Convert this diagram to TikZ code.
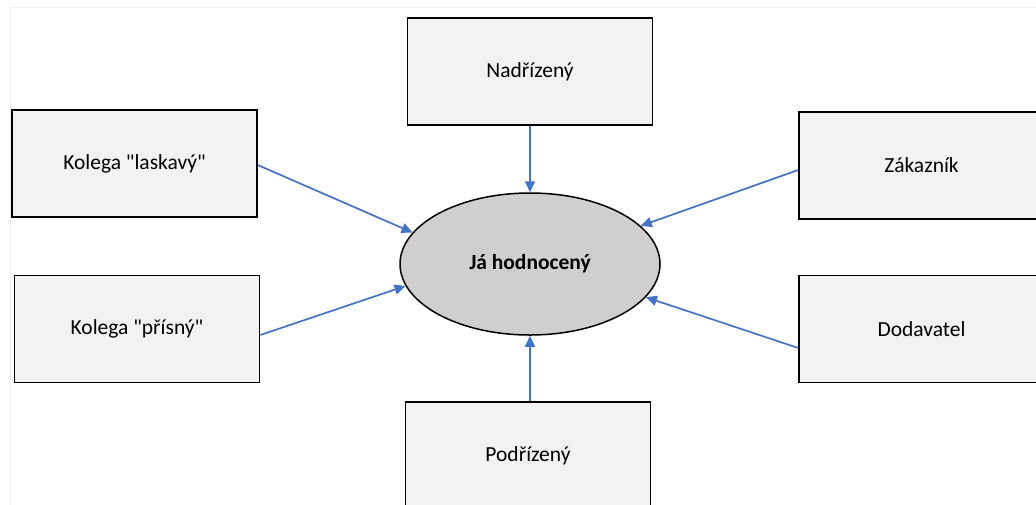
\documentclass[tikz,border=0pt]{standalone}
\usepackage{fontspec}
\setmainfont{Carlito}[Ligatures=TeXOff]
\usetikzlibrary{shapes.geometric,arrows.meta}
\definecolor{boxfill}{HTML}{F2F2F2}
\definecolor{ellfill}{HTML}{D0CECE}
\definecolor{arrowblue}{HTML}{4472C4}
\definecolor{framegray}{HTML}{EEEEEE}
\begin{document}
\begin{tikzpicture}[x=1pt,y=-1pt,
  rolebox/.style={draw=black, line width=1.5pt, fill=boxfill, minimum width=245pt, minimum height=107pt, inner sep=0pt, font=\fontsize{21.5}{25}\selectfont},
  centre/.style={ellipse, draw=black, line width=1.5pt, fill=ellfill, minimum width=260pt, minimum height=142pt, inner sep=0pt, font=\fontsize{21.5}{25}\selectfont\bfseries},
  link/.style={draw=arrowblue, line width=1.7pt, -{Triangle[length=11pt,width=10pt]}}]
\useasboundingbox[fill=white] (0,0) rectangle (1036,504);
\clip (0,0) rectangle (1036,504);
\draw[framegray, line width=1pt] (10,520) -- (10,7) -- (1040,7);
\node[centre] (me) at (530,264) {Já hodnocený};
\node[rolebox] (nad) at (530,71.5) {Nadřízený};
\node[rolebox] (lask) at (134.5,163.5) {Kolega "laskavý"};
\node[rolebox] (pris) at (137,329) {Kolega "přísný"};
\node[rolebox] (zak) at (921.5,165.5) {Zákazník};
\node[rolebox] (dod) at (921.5,329) {Dodavatel};
\node[rolebox] (pod) at (528,455.5) {Podřízený};
\draw[link] (nad.south) -- (me.north);
\draw[link] (pod.north -| me.south) -- (me.south);
\draw[link] ([yshift=-1.5pt]lask.east) -- (me.165);
\draw[link] ([yshift=-6pt]pris.east) -- (me.190);
\draw[link] ([yshift=-4.5pt]zak.west) -- (me.19);
\draw[link] ([yshift=-19pt]dod.west) -- (me.344);
\end{tikzpicture}
\end{document}
